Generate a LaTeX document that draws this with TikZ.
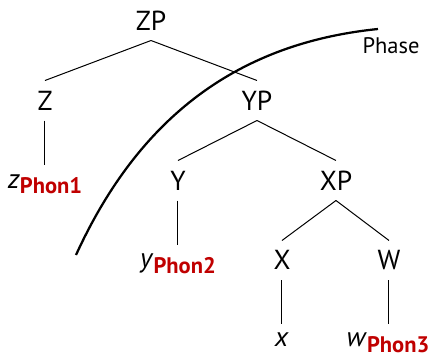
\documentclass[tikz,border=0pt]{standalone}
\usepackage{fontspec}
\setmainfont{PT Sans}
\usetikzlibrary{positioning}
\definecolor{phonred}{RGB}{192,0,0}
\newcommand{\phon}[2]{\textit{#1}\raisebox{-0.2em}{\fontsize{9}{10}\selectfont\bfseries\color{phonred}Phon#2}}

\begin{document}
\begin{tikzpicture}[x=0.4pt, y=0.4pt,
		cat/.style={font=\fontsize{11}{13}\selectfont, anchor=base, inner sep=4pt, text height=7.6pt, text depth=0pt},
		leaf/.style={cat, text height=5pt},
		branch/.style={line width=0.4pt},
		phaseline/.style={line width=0.9pt}]
		\useasboundingbox (0,0) rectangle (429,355);
		
		\node[cat] (ZP) at (151,325) {ZP};
		\node[cat] (Z) at (45,245) {Z};
		\node[cat] (YP) at (257,245) {YP};
		\node[cat] (Y) at (178,165) {Y};
		\node[cat] (XP) at (336,165) {XP};
		\node[cat] (X) at (282,85) {X};
		\node[cat] (W) at (389,85) {W};
		
		\node[leaf] (z) at (45,167) {\phon{z}{1}};
		\node[leaf] (y) at (178,87) {\phon{y}{2}};
		\node[leaf] (x) at (282,8) {\textit{x}};
		\node[leaf] (w) at (388,8) {\phon{w}{3}};
		
		\foreach \a/\b in {ZP/Z, ZP/YP, YP/Y, YP/XP, XP/X, XP/W, Z/z, Y/y, X/x}
			\draw[branch] (\a.south) -- (\b.north);
		\draw[branch] (W.south) -- (W.south |- w.north);
		
		% phase boundary
		\coordinate (pstart) at (76,100);
		\coordinate (pend) at (378,326);
		\draw[phaseline] (pstart) .. controls (140,240) and (240,312) .. (pend);
		\node[font=\fontsize{9}{11}\selectfont, anchor=base] (phase) at (391,302) {Phase};
	\end{tikzpicture}
\end{document}
